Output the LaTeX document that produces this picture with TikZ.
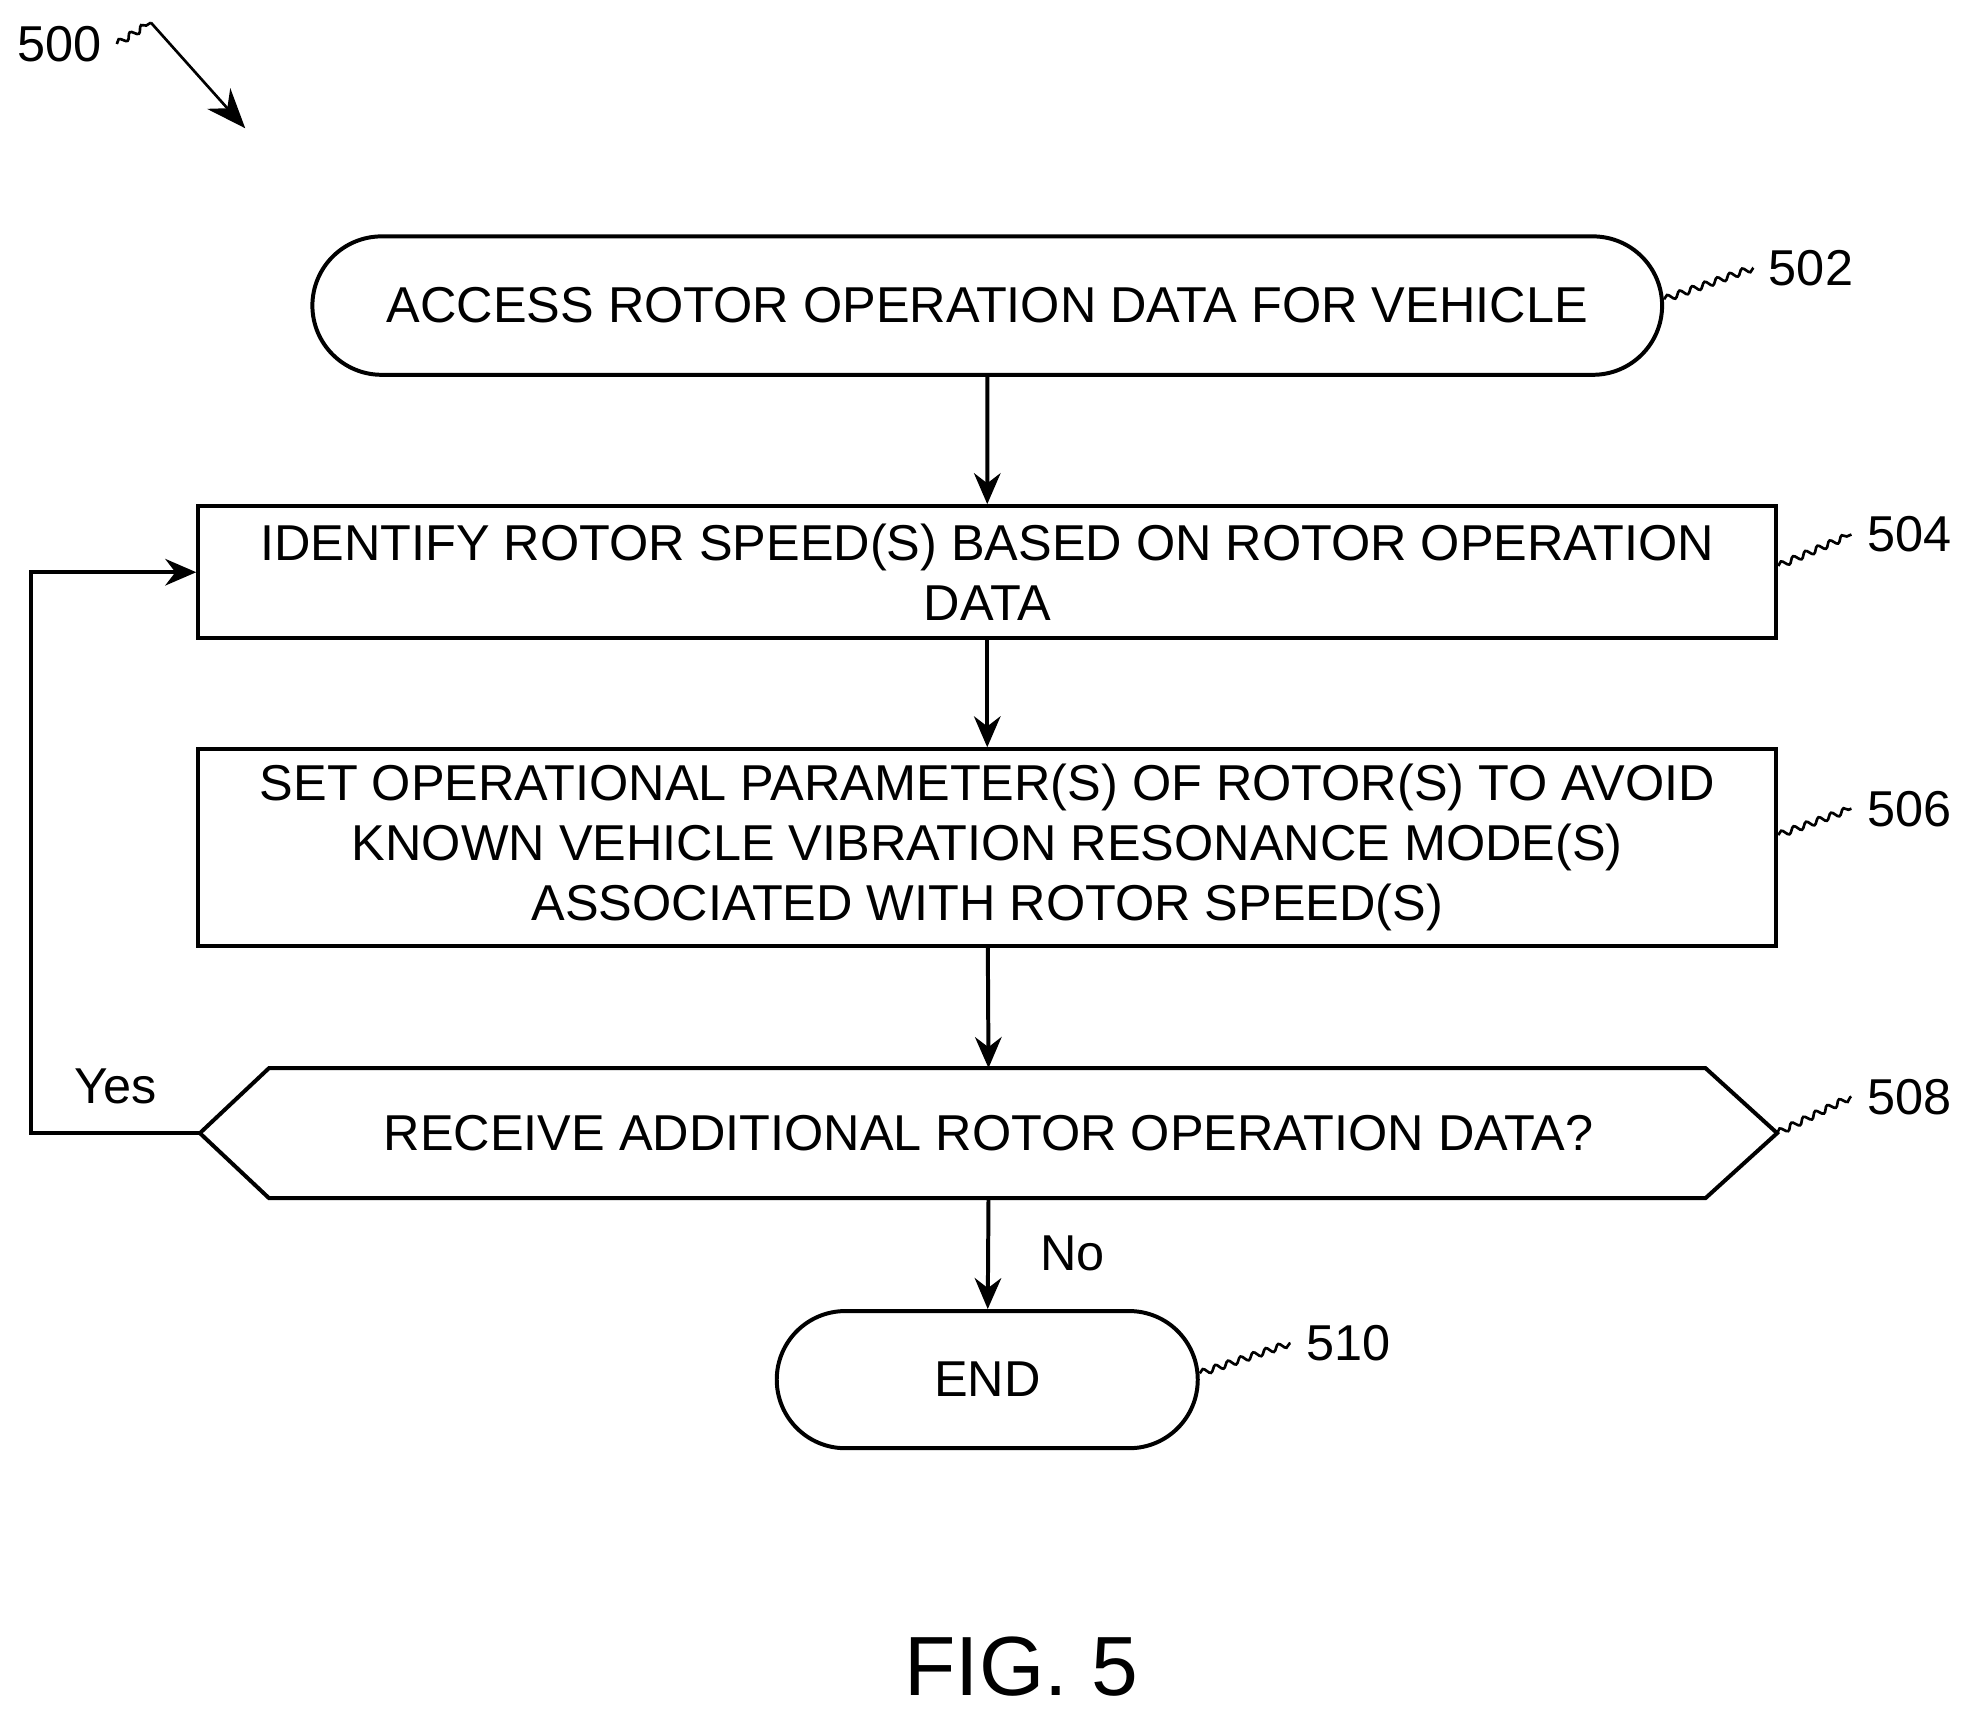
\documentclass[tikz,border=0pt]{standalone}
\usepackage{fontspec}
\setmainfont{Liberation Sans}
\usetikzlibrary{shapes.misc,positioning,calc,decorations.pathmorphing,arrows.meta}
\begin{document}
\begin{tikzpicture}[x=0.01cm,y=-0.01cm]
    % Define styles for nodes and arrows
    \tikzset{process/.style={rectangle, draw=black, line width=0.9pt, minimum width=12.54cm, align=center, font=\fontsize{11.4}{13.6}\selectfont},
      term/.style={rounded rectangle, draw=black, line width=0.9pt, align=center, font=\fontsize{11.4}{14}\selectfont},
      arrow/.style={line width=0.9pt, -{Stealth[length=7pt,width=6pt]}},
      refnum/.style={font=\fontsize{11.4}{14}\selectfont},
      squig/.style={line width=0.6pt, decorate, decoration={snake, amplitude=0.7pt, segment length=3pt}}}
    \useasboundingbox (0,0) rectangle (1568,1364);
    % Nodes
    \node (access) [term, minimum width=10.96cm, minimum height=1.1cm] at (785,243) {ACCESS ROTOR OPERATION DATA FOR VEHICLE};
    \node (identify) [process, minimum height=1.05cm] at (785,455) {IDENTIFY ROTOR SPEED(S) BASED ON ROTOR OPERATION\\DATA};
    \node (set) [process, minimum height=1.56cm] at (785,674) {SET OPERATIONAL PARAMETER(S) OF ROTOR(S) TO AVOID\\KNOWN VEHICLE VIBRATION RESONANCE MODE(S)\\ASSOCIATED WITH ROTOR SPEED(S)};
    \node (receive) [minimum width=12.52cm, minimum height=1.02cm, font=\fontsize{11.4}{14}\selectfont] at (786,901) {RECEIVE ADDITIONAL ROTOR OPERATION DATA?};
    \draw [line width=0.9pt] (receive.west) -- ($(receive.north west)+(55,0)$) -- ($(receive.north east)+(-57,0)$) -- (receive.east) -- ($(receive.south east)+(-57,0)$) -- ($(receive.south west)+(55,0)$) -- cycle;
    \node (finish) [term, minimum width=3.58cm, minimum height=1.09cm] at (785,1097) {END};
    % Reference numbers
    \node (n500) [refnum] at (47,35) {500};
    \node (n502) [refnum] at (1440,213) {502};
    \node (n504) [refnum] at (1518,425) {504};
    \node (n506) [refnum] at (1518,643) {506};
    \node (n508) [refnum] at (1518,872) {508};
    \node (n510) [refnum] at (1072,1068) {510};
    \node (yes) [refnum] at (92,864) {Yes};
    \node (fig) [font=\fontsize{19}{22}\selectfont] at (812,1325) {FIG. 5};
    % Arrows (connections)
    \draw [arrow] (access) -- (identify);
    \draw [arrow] (identify) -- (set);
    \draw [arrow] (set) -- (receive.north);
    \draw [arrow] (receive.south) -- node[right=8pt, refnum] {No} (finish);
    \draw [arrow] (receive.west) -- (25,901) -- (25,455) -- (identify.west);
    % Leader lines
    \draw [squig] (access.east) ++(0,-5) -- (n502.west);
    \draw [squig] (identify.east) ++(0,-5) -- (n504.west);
    \draw [squig] (set.east) ++(0,-10) -- (n506.west);
    \draw [squig] (receive.east) -- (n508.west);
    \draw [squig] (finish.east) ++(0,-5) -- (n510.west);
    \draw [squig] (n500.east) -- (120,18);
    \draw [line width=0.6pt, -{Stealth[length=9pt,width=7pt]}] (120,18) -- (195,102);
\end{tikzpicture}
\end{document}
